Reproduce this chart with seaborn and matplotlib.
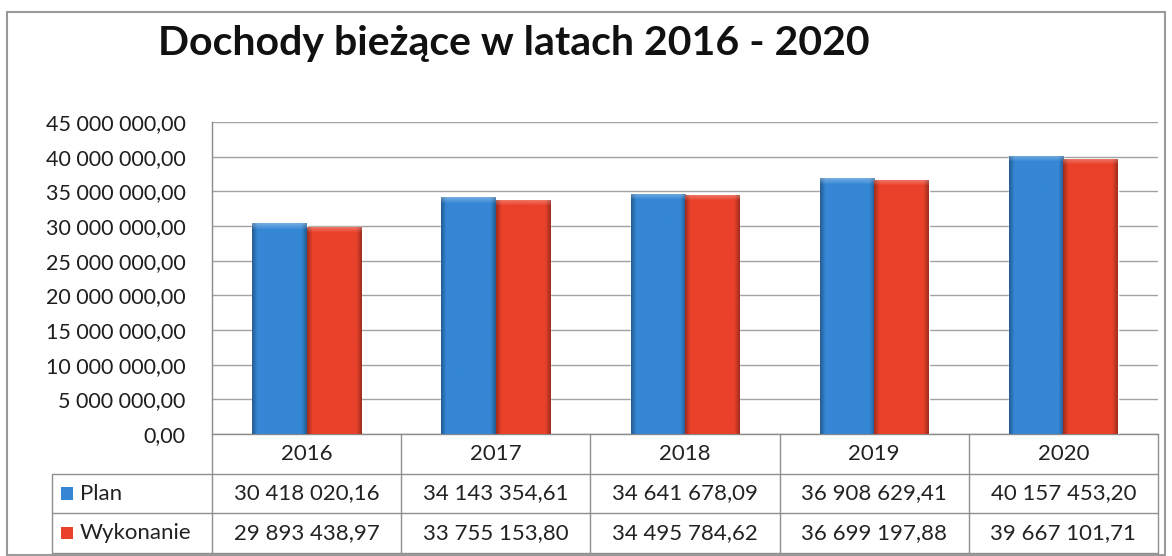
import numpy as np
import pandas as pd
import matplotlib
matplotlib.use("Agg")
import matplotlib.pyplot as plt
import seaborn as sns
from matplotlib.colors import to_rgb
from matplotlib.patches import Rectangle
from matplotlib.ticker import FuncFormatter, MultipleLocator

# Dane z wykresu
years = ["2016", "2017", "2018", "2019", "2020"]
series = ["Plan", "Wykonanie"]
plan = [30418020.16, 34143354.61, 34641678.09, 36908629.41, 40157453.20]
wykonanie = [29893438.97, 33755153.80, 34495784.62, 36699197.88, 39667101.71]
colors = ["#3587d5", "#e9412a"]
title = "Dochody bieżące w latach 2016 - 2020"


def pl_fmt(v, pos=None):
    s = f"{v:,.2f}"
    return s.replace(",", " ").replace(".", ",")


df = pd.DataFrame({
    "Rok": years * 2,
    "Seria": [series[0]] * len(years) + [series[1]] * len(years),
    "Wartosc": plan + wykonanie,
})

sns.set_style("white")
plt.rcParams["font.family"] = ["Lato", "DejaVu Sans"]

W, H = 1172, 556
fig = plt.figure(figsize=(W / 100, H / 100), dpi=100)


def box(x0, y0, x1, y1):
    return [x0 / W, 1 - y1 / H, (x1 - x0) / W, (y1 - y0) / H]


ax = fig.add_axes(box(212, 122, 1158, 434))
sns.barplot(data=df, x="Rok", y="Wartosc", hue="Seria", palette=colors,
            width=0.574, saturation=1, ax=ax, legend=False, zorder=3)

# lekki efekt "bevel" jak w Excelu
px_per_unit = 312 / 45e6
for patch in ax.patches:
    base = np.array(to_rgb(patch.get_facecolor()))
    x, y, w, h = patch.get_x(), patch.get_y(), patch.get_width(), patch.get_height()
    if h <= 0:
        continue
    wp, hp = 54, max(int(h * px_per_unit), 2)
    xs = np.arange(wp)
    ys = np.arange(hp)
    dx = np.minimum(xs, wp - 1 - xs)
    side = np.clip(1 - dx / 5.0, 0, 1)
    top = np.clip(1 - ys / 6.0, 0, 1)
    img = np.ones((hp, wp, 3)) * base
    img = img * (1 - 0.3 * side[None, :, None])
    img = img + (1 - img) * 0.3 * top[:, None, None]
    im = ax.imshow(img, extent=[x, x + w, y, y + h], aspect="auto",
                   origin="upper", zorder=3.5, interpolation="bilinear")
    im.set_clip_path(patch)

ax.set_xlim(-0.5, 4.5)
ax.set_ylim(0, 45e6)
ax.yaxis.set_major_locator(MultipleLocator(5e6))
ax.yaxis.set_major_formatter(FuncFormatter(pl_fmt))
ax.grid(axis="y", color="#a2a2a2", lw=1, zorder=0)
ax.set_xlabel("")
ax.set_ylabel("")
ax.set_xticks([])
ax.tick_params(axis="y", length=0, pad=19, labelsize=15.5, labelcolor="#1e1e1e")
for s in ["top", "right"]:
    ax.spines[s].set_visible(False)
for s in ["left", "bottom"]:
    ax.spines[s].set_color("#8a8a8a")
    ax.spines[s].set_linewidth(1)

# tabela danych pod wykresem
lead = (212 - 52) / ((1158 - 212) / len(years))
tab = fig.add_axes(box(52, 434, 1158, 553))
tab.set_xlim(-0.5 - lead, len(years) - 0.5)
tab.set_ylim(3, 0)
tab.axis("off")
lc = "#8f8f8f"
x_left = -0.5 - lead
for yy in [1, 2, 3]:
    tab.plot([x_left, len(years) - 0.5], [yy, yy], color=lc, lw=1, clip_on=False)
tab.plot([x_left, x_left], [1, 3], color=lc, lw=1, clip_on=False)
for i in range(len(years) + 1):
    tab.plot([i - 0.5, i - 0.5], [0, 3], color=lc, lw=1, clip_on=False)

tcol = "#222222"
for i, yr in enumerate(years):
    tab.text(i, 0.5, yr, ha="center", va="center", fontsize=16, color=tcol)
    tab.text(i, 1.5, pl_fmt(plan[i]), ha="center", va="center", fontsize=16, color=tcol)
    tab.text(i, 2.5, pl_fmt(wykonanie[i]), ha="center", va="center", fontsize=16, color=tcol)

u = 1 / ((1158 - 212) / len(years))  # data units per pixel
for r, (name, c) in enumerate(zip(series, colors)):
    tab.scatter([x_left + 15 * u], [1.5 + r], marker="s", s=75, color=c,
                edgecolor="none", clip_on=False)
    tab.text(x_left + 28 * u, 1.5 + r, name, ha="left", va="center",
             fontsize=16, color=tcol)

fig.text(514 / W, 1 - 44 / H, title, ha="center", va="center",
         fontsize=29.5, fontweight="bold", color="#111111")

fig.patches.append(Rectangle((7 / W, 1 - 555 / H), (1165 - 7) / W, (555 - 12) / H,
                             transform=fig.transFigure, fill=False,
                             ec="#9a9a9a", lw=1.5))

fig.savefig("out.png", dpi=100)
